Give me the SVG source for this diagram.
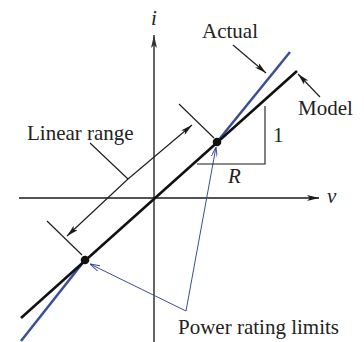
<svg xmlns="http://www.w3.org/2000/svg" width="364" height="342" viewBox="0 0 364 342">
<defs>
<style>
.t{font-family:"Liberation Serif","Times New Roman",serif;font-size:21px;fill:#222}
.it{font-style:italic}
.thin{stroke:#1a1a1a;stroke-width:1.1;fill:none}
.blue{stroke:#3b4e99;fill:none}
</style>
<marker id="ah" viewBox="0 0 12 6" refX="12" refY="3" markerWidth="12" markerHeight="6" markerUnits="userSpaceOnUse" orient="auto"><path d="M0,0 L12,3 L0,6 L3,3 Z" fill="#1a1a1a"/></marker>
<marker id="ahg" viewBox="0 0 13 6" refX="13" refY="3" markerWidth="13" markerHeight="6" markerUnits="userSpaceOnUse" orient="auto"><path d="M0,0 L13,3 L0,6 L3,3 Z" fill="#333"/></marker>
<marker id="ahb" viewBox="0 0 10 6" refX="10" refY="3" markerWidth="10" markerHeight="6" markerUnits="userSpaceOnUse" orient="auto-start-reverse"><path d="M0,0 L10,3 L0,6" fill="none" stroke="#3b4e99" stroke-width="1"/></marker>
</defs>
<g id="axes">
<line x1="154" y1="342" x2="154" y2="35" stroke="#666" stroke-width="2" marker-end="url(#ahg)"/>
<line x1="19" y1="198" x2="319" y2="198" stroke="#1a1a1a" stroke-width="1.3" marker-end="url(#ah)"/>
<text class="t it" x="154" y="25" text-anchor="middle">i</text>
<text class="t it" x="327" y="203">v</text>
</g>
<g id="connectors">
<line x1="179" y1="104" x2="214" y2="138" class="thin"/>
<line x1="47" y1="221" x2="82" y2="255" class="thin"/>
<line x1="128" y1="179" x2="192" y2="125" class="thin" marker-end="url(#ah)"/>
<line x1="128" y1="179" x2="67" y2="236" class="thin" marker-end="url(#ah)"/>
<line x1="90" y1="143" x2="128" y2="179" class="thin"/>
<line x1="233" y1="45" x2="266" y2="73" class="thin" marker-end="url(#ah)"/>
<line x1="320" y1="97" x2="298" y2="74" class="thin" marker-end="url(#ah)"/>
<polyline points="216,147 186,311 90,264" class="blue" stroke-width="1" marker-start="url(#ahb)" marker-end="url(#ahb)"/>
</g>
<g id="actual">
<line x1="217" y1="142" x2="290" y2="52" class="blue" stroke-width="2.5"/>
<line x1="85" y1="260" x2="21" y2="341" class="blue" stroke-width="2.5"/>
</g>
<g id="model">
<line x1="21" y1="318" x2="297" y2="71" stroke="#111" stroke-width="2.6"/>
<circle cx="217" cy="142" r="4.3" fill="#111"/>
<circle cx="85" cy="260" r="4.3" fill="#111"/>
</g>
<g id="slope">
<path d="M197,164 H265 V106" class="thin"/>
<text class="t" x="273" y="142">1</text>
<text class="t it" x="228" y="183">R</text>
</g>
<g id="labels">
<text class="t" x="27" y="140">Linear range</text>
<text class="t" x="202" y="38">Actual</text>
<text class="t" x="298" y="115">Model</text>
<text class="t" x="178" y="334">Power rating limits</text>
</g>
</svg>
